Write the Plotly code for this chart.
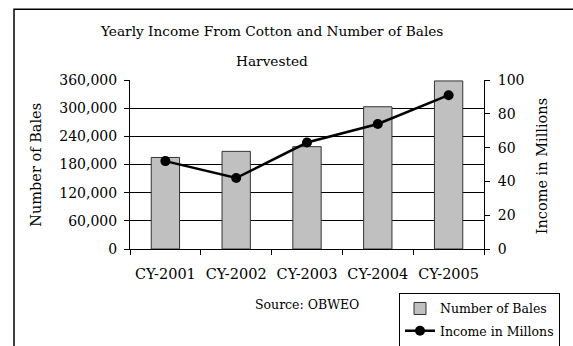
import plotly.graph_objects as go

# Crop years, bales harvested and cotton income
years = ["CY-2001", "CY-2002", "CY-2003", "CY-2004", "CY-2005"]
bales = [195000, 208000, 218000, 303000, 358000]
income_millions = [52, 42, 63, 74, 91]

bales_ticks = [0, 60000, 120000, 180000, 240000, 300000, 360000]
income_ticks = [0, 20, 40, 60, 80, 100]

W, H = 573, 346
L, R, T, B = 130, 484, 80, 249.5
FONT = "DejaVu Serif"


def px(x):
    return (x - L) / (R - L)


def py(y):
    return (B - y) / (B - T)


fig = go.Figure()

fig.add_trace(go.Bar(
    x=years, y=bales, name="Number of Bales",
    marker=dict(color="#C0C0C0", line=dict(color="#333333", width=1)),
    width=0.4, legendgroup="a",
))
fig.add_trace(go.Scatter(
    x=years, y=income_millions, name="Income in Millons", yaxis="y2",
    mode="lines+markers",
    line=dict(color="black", width=2.5),
    marker=dict(color="black", size=10),
    legendgroup="b",
))

axis_font = dict(family=FONT, size=14, color="black")

fig.update_layout(
    width=W, height=H,
    margin=dict(l=L, r=W - R, t=T, b=H - B, autoexpand=False),
    paper_bgcolor="white", plot_bgcolor="white",
    font=dict(family=FONT, color="black"),
    showlegend=True,
    xaxis=dict(
        type="category", tickson="boundaries", ticks="outside", ticklen=5,
        tickcolor="black", showline=True, linecolor="black", linewidth=1,
        showgrid=False, tickfont=dict(family=FONT, size=14.5, color="black"),
        range=[-0.5, 4.5], ticklabelstandoff=12,
    ),
    xaxis2=dict(
        overlaying="x", anchor="y", range=[0, 5], dtick=1, tick0=0,
        ticks="inside", ticklen=5, tickcolor="black", showticklabels=False,
        showgrid=False, showline=False, zeroline=False,
    ),
    yaxis=dict(
        range=[0, 360000], tickvals=bales_ticks, tickformat=",",
        ticks="outside", ticklen=5, tickcolor="black",
        showline=True, linecolor="black", linewidth=1,
        showgrid=True, gridcolor="black", gridwidth=1, zeroline=False,
        tickfont=axis_font, ticklabelstandoff=4,
    ),
    yaxis2=dict(
        overlaying="y", side="right", anchor="x", range=[0, 100],
        tickvals=income_ticks, ticks="outside", ticklen=5, tickcolor="black",
        showline=True, linecolor="black", linewidth=1, showgrid=False,
        zeroline=False, tickfont=axis_font, ticklabelstandoff=5,
    ),
    yaxis3=dict(
        overlaying="y", side="right", anchor="x", range=[0, 100],
        tickvals=income_ticks, ticks="inside", ticklen=5, tickcolor="black",
        showticklabels=False, showline=False, showgrid=False, zeroline=False,
    ),
    legend=dict(
        x=px(399), y=py(293.5), xanchor="left", yanchor="top",
        bordercolor="black", borderwidth=1, bgcolor="white",
        font=dict(family=FONT, size=12.5, color="black"),
        traceorder="grouped", tracegroupgap=3,
    ),
    bargap=0.6,
)

# Outer frame around the chart
fig.add_shape(
    type="rect", xref="paper", yref="paper",
    x0=px(14), x1=px(590), y0=py(9), y1=py(370),
    line=dict(color="black", width=1.5), layer="below",
)

annotations = [
    dict(text="Yearly Income From Cotton and Number of Bales", x=px(271.5), y=py(31),
         size=13.7),
    dict(text="Harvested", x=px(271.5), y=py(61), size=13.7),
    dict(text="Source: OBWEO", x=px(307), y=py(305), size=12.5),
]
for a in annotations:
    fig.add_annotation(
        text=a["text"], x=a["x"], y=a["y"], xref="paper", yref="paper",
        xanchor="center", yanchor="middle", showarrow=False,
        font=dict(family=FONT, size=a["size"], color="black"),
    )

fig.add_annotation(
    text="Number of Bales", x=px(36), y=py(165), xref="paper", yref="paper",
    textangle=-90, showarrow=False, xanchor="center", yanchor="middle",
    font=dict(family=FONT, size=14.5, color="black"),
)
fig.add_annotation(
    text="Income in Millions", x=px(541.5), y=py(167), xref="paper", yref="paper",
    textangle=-90, showarrow=False, xanchor="center", yanchor="middle",
    font=dict(family=FONT, size=14.5, color="black"),
)

fig.write_html("out.html")
